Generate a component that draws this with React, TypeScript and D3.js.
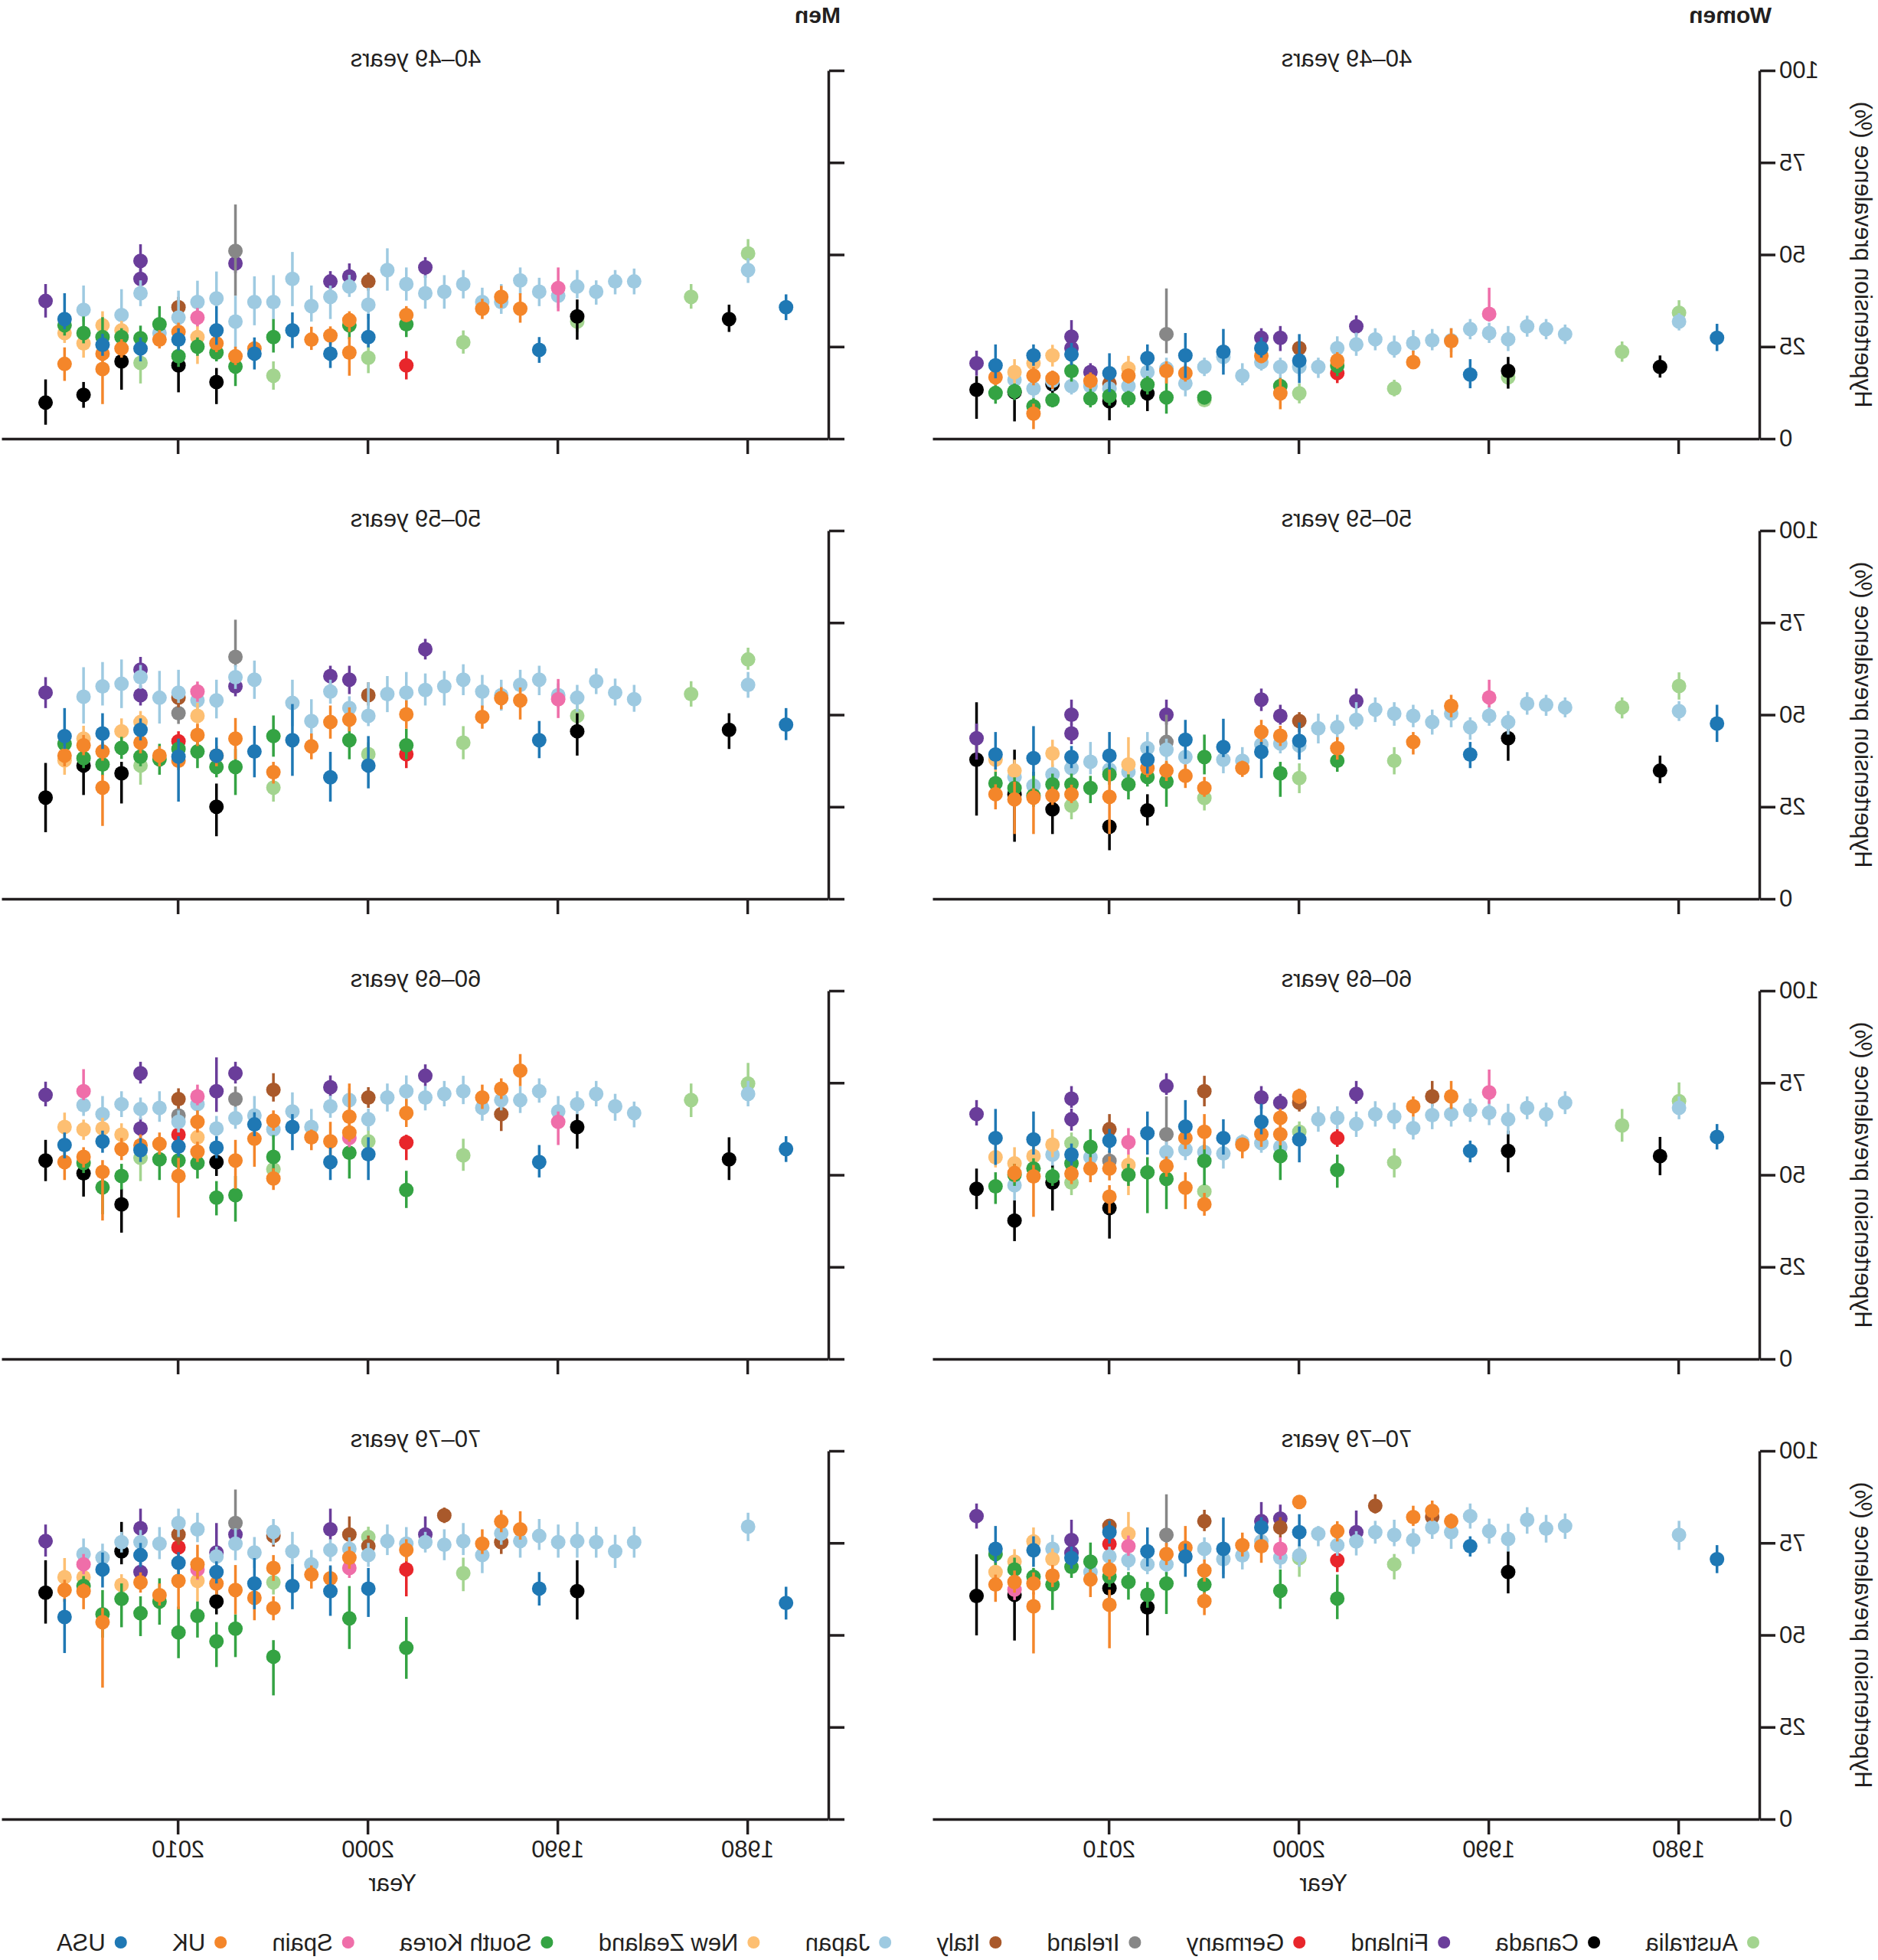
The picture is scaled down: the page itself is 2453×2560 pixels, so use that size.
import { useEffect, useRef } from 'react';
import * as d3 from 'd3';

// [country, survey year, prevalence %, lower CI, upper CI]
type Survey = [string, number, number, number, number];

const countryCodes = ['AUS', 'CAN', 'FIN', 'DEU', 'IRL', 'ITA', 'JPN', 'NZL', 'KOR', 'ESP', 'GBR', 'USA'];
const countryNames = ['Australia', 'Canada', 'Finland', 'Germany', 'Ireland', 'Italy', 'Japan', 'New Zealand', 'South Korea', 'Spain', 'UK', 'USA'];
const countryColors = ['#a3d48f', '#000000', '#6a3d9a', '#e8262b', '#878787', '#a9592b', '#9ecae1', '#fdbf72', '#34a343', '#ef6ea9', '#f4862a', '#1f78b4'];

const sexes = ['Women', 'Men'];
const ageGroups = ['40–49 years', '50–59 years', '60–69 years', '70–79 years'];
const yearTicks = [1980, 1990, 2000, 2010];
const prevalenceTicks = [0, 25, 50, 75, 100];

const women40: Survey[] = [
  ['FIN', 2017, 20.5, 17.1, 23.9], ['CAN', 2017, 13.3, 5.4, 17.0],
  ['USA', 2016, 19.9, 16.4, 25.6], ['GBR', 2016, 16.7, 14.5, 19.0], ['KOR', 2016, 12.4, 9.5, 15.7],
  ['NZL', 2015, 18.1, 15.0, 21.6], ['JPN', 2015, 16.0, 13.5, 18.5], ['KOR', 2015, 12.9, 10.5, 15.0], ['CAN', 2015, 12.6, 4.7, 16.4],
  ['USA', 2014, 22.6, 19.8, 25.6], ['NZL', 2014, 20.5, 17.5, 23.0], ['GBR', 2014, 17.1, 14.5, 19.5], ['JPN', 2014, 13.6, 11.0, 16.0], ['KOR', 2014, 8.8, 6.5, 11.0], ['GBR', 2014, 6.8, 2.6, 9.5],
  ['NZL', 2013, 22.6, 19.6, 25.5], ['GBR', 2013, 16.4, 13.5, 18.5], ['JPN', 2013, 15.7, 13.0, 18.5], ['CAN', 2013, 14.8, 9.5, 17.0], ['KOR', 2013, 10.5, 8.5, 12.5],
  ['FIN', 2012, 27.7, 25.0, 32.2], ['FIN', 2012, 24.6, 22.0, 27.0], ['USA', 2012, 22.9, 20.0, 26.0], ['KOR', 2012, 18.4, 15.5, 21.0], ['JPN', 2012, 14.3, 12.0, 17.0],
  ['FIN', 2011, 18.1, 16.0, 20.5], ['GBR', 2011, 15.7, 13.5, 18.0], ['JPN', 2011, 14.3, 12.0, 16.5], ['KOR', 2011, 10.9, 8.5, 13.5],
  ['USA', 2010, 17.8, 12.7, 23.2], ['ITA', 2010, 15.0, 13.0, 17.0], ['JPN', 2010, 13.6, 11.5, 16.0], ['KOR', 2010, 11.6, 9.0, 14.0], ['CAN', 2010, 10.2, 5.0, 13.6],
  ['NZL', 2009, 19.1, 15.5, 22.5], ['GBR', 2009, 17.1, 15.0, 19.0], ['JPN', 2009, 14.3, 12.0, 17.0], ['KOR', 2009, 10.9, 8.5, 13.0],
  ['USA', 2008, 21.9, 18.5, 25.6], ['JPN', 2008, 18.1, 15.5, 20.5], ['KOR', 2008, 14.7, 12.0, 17.0], ['CAN', 2008, 12.3, 7.5, 16.0],
  ['IRL', 2007, 28.4, 23.2, 40.8], ['JPN', 2007, 19.1, 16.5, 22.0], ['GBR', 2007, 18.4, 15.0, 21.0], ['KOR', 2007, 11.2, 6.8, 16.6],
  ['USA', 2006, 22.6, 16.5, 28.7], ['GBR', 2006, 17.8, 15.5, 20.0], ['JPN', 2006, 15.0, 11.5, 18.5],
  ['JPN', 2005, 19.5, 17.0, 22.0], ['KOR', 2005, 11.2, 9.5, 13.0], ['AUS', 2005, 10.5, 9.0, 12.0],
  ['USA', 2004, 23.6, 17.4, 29.8], ['JPN', 2004, 22.2, 19.5, 24.5],
  ['JPN', 2003, 17.1, 14.5, 20.5],
  ['FIN', 2002, 27.4, 25.0, 30.0], ['USA', 2002, 24.6, 22.0, 27.5], ['GBR', 2002, 22.5, 20.5, 24.5], ['JPN', 2002, 20.8, 18.5, 23.0],
  ['FIN', 2001, 27.4, 23.8, 30.6], ['JPN', 2001, 19.5, 16.0, 22.0], ['KOR', 2001, 14.3, 11.5, 16.5], ['GBR', 2001, 12.3, 8.0, 16.4],
  ['ITA', 2000, 24.6, 22.5, 26.5], ['USA', 2000, 21.2, 15.1, 28.4], ['JPN', 2000, 19.5, 17.0, 22.0], ['AUS', 2000, 12.3, 9.6, 15.0],
  ['JPN', 1999, 19.5, 16.5, 22.0],
  ['JPN', 1998, 24.6, 22.0, 27.8], ['GBR', 1998, 21.2, 19.0, 23.5], ['KOR', 1998, 19.8, 17.0, 22.5], ['DEU', 1998, 17.8, 15.1, 20.5],
  ['FIN', 1997, 30.5, 28.0, 33.5], ['JPN', 1997, 25.6, 22.5, 28.8],
  ['JPN', 1996, 27.0, 24.0, 30.0],
  ['JPN', 1995, 24.6, 22.0, 28.0], ['AUS', 1995, 13.6, 11.5, 16.0],
  ['JPN', 1994, 26.0, 23.5, 29.5], ['GBR', 1994, 20.8, 19.0, 23.9],
  ['JPN', 1993, 26.7, 24.0, 29.8],
  ['GBR', 1992, 26.5, 22.0, 30.0], ['JPN', 1992, 26.7, 23.5, 30.0],
  ['JPN', 1991, 29.8, 27.0, 32.5], ['USA', 1991, 17.4, 13.7, 21.6],
  ['ESP', 1990, 33.9, 31.8, 41.0], ['JPN', 1990, 28.7, 26.0, 31.5],
  ['JPN', 1989, 27.0, 23.8, 30.6], ['CAN', 1989, 18.4, 13.6, 22.2], ['AUS', 1989, 16.7, 14.5, 19.0],
  ['JPN', 1988, 30.5, 27.7, 33.4],
  ['JPN', 1987, 29.8, 27.0, 32.5],
  ['JPN', 1986, 28.4, 25.7, 31.0],
  ['AUS', 1983, 23.6, 20.9, 26.4],
  ['CAN', 1981, 19.5, 16.6, 22.6],
  ['AUS', 1980, 34.2, 31.8, 37.6], ['JPN', 1980, 31.8, 29.4, 34.1],
  ['USA', 1978, 27.4, 23.8, 31.2],
];

const men40: Survey[] = [
  ['FIN', 2017, 37.4, 32.9, 42.0], ['CAN', 2017, 9.8, 3.8, 16.1],
  ['USA', 2016, 32.5, 29.7, 39.5], ['KOR', 2016, 30.8, 28.0, 33.0], ['NZL', 2016, 28.7, 26.0, 31.0], ['GBR', 2016, 20.3, 15.7, 24.8],
  ['JPN', 2015, 35.0, 31.8, 41.6], ['KOR', 2015, 28.7, 25.9, 33.2], ['NZL', 2015, 25.9, 22.0, 29.0], ['CAN', 2015, 11.9, 8.4, 15.4],
  ['NZL', 2014, 30.8, 27.6, 34.6], ['KOR', 2014, 27.6, 24.0, 33.0], ['USA', 2014, 25.5, 22.5, 28.5], ['GBR', 2014, 23.1, 21.0, 25.5], ['GBR', 2014, 18.9, 9.4, 22.0],
  ['JPN', 2013, 33.6, 30.1, 40.6], ['NZL', 2013, 29.4, 27.0, 32.0], ['KOR', 2013, 27.6, 25.0, 30.0], ['GBR', 2013, 24.5, 22.0, 27.0], ['CAN', 2013, 21.0, 13.3, 25.5],
  ['FIN', 2012, 48.3, 45.1, 52.8], ['FIN', 2012, 43.4, 40.5, 46.5], ['JPN', 2012, 39.5, 36.0, 43.0], ['KOR', 2012, 27.3, 22.9, 30.7], ['USA', 2012, 24.5, 21.0, 27.5], ['AUS', 2012, 20.6, 15.0, 24.1],
  ['KOR', 2011, 31.1, 28.3, 36.0], ['JPN', 2011, 28.7, 26.0, 32.0], ['GBR', 2011, 26.9, 24.5, 29.5],
  ['ITA', 2010, 35.7, 33.0, 38.5], ['JPN', 2010, 32.9, 29.7, 40.2], ['GBR', 2010, 29.0, 26.5, 31.5], ['USA', 2010, 26.9, 24.0, 30.0], ['KOR', 2010, 22.4, 19.5, 25.5], ['CAN', 2010, 19.9, 12.6, 22.4],
  ['JPN', 2009, 37.1, 34.0, 42.9], ['ESP', 2009, 32.9, 30.5, 35.5], ['NZL', 2009, 27.6, 20.3, 31.1], ['KOR', 2009, 25.0, 22.5, 27.5],
  ['JPN', 2008, 38.1, 35.9, 45.4], ['USA', 2008, 29.4, 25.5, 36.0], ['GBR', 2008, 25.9, 23.5, 28.0], ['KOR', 2008, 23.4, 21.0, 26.0], ['CAN', 2008, 15.4, 9.4, 19.2],
  ['IRL', 2007, 51.0, 38.8, 63.6], ['FIN', 2007, 47.6, 45.0, 50.0], ['JPN', 2007, 31.8, 23.4, 38.8], ['GBR', 2007, 22.4, 20.0, 25.0], ['KOR', 2007, 19.6, 14.3, 22.7],
  ['JPN', 2006, 37.1, 30.8, 44.1], ['GBR', 2006, 24.5, 22.0, 26.5], ['USA', 2006, 23.1, 18.8, 27.5],
  ['JPN', 2005, 37.1, 32.5, 44.4], ['KOR', 2005, 27.6, 23.4, 32.5], ['AUS', 2005, 17.1, 13.3, 21.0],
  ['JPN', 2004, 43.4, 36.0, 50.7], ['USA', 2004, 29.4, 24.6, 34.3],
  ['JPN', 2003, 36.0, 31.8, 41.6], ['GBR', 2003, 26.9, 24.1, 30.4],
  ['FIN', 2002, 42.7, 40.2, 45.5], ['JPN', 2002, 38.5, 32.5, 41.6], ['GBR', 2002, 28.0, 25.5, 30.5], ['USA', 2002, 23.1, 19.2, 26.2],
  ['FIN', 2001, 44.1, 41.6, 47.6], ['JPN', 2001, 41.3, 38.5, 44.5], ['GBR', 2001, 32.2, 29.0, 34.6], ['KOR', 2001, 30.8, 27.0, 34.0], ['GBR', 2001, 23.4, 17.1, 27.6],
  ['ITA', 2000, 42.7, 40.2, 45.1], ['JPN', 2000, 36.4, 32.5, 41.0], ['USA', 2000, 27.6, 24.8, 33.9], ['AUS', 2000, 22.0, 17.8, 25.5],
  ['JPN', 1999, 45.8, 40.2, 51.7],
  ['JPN', 1998, 42.0, 37.5, 46.5], ['GBR', 1998, 33.6, 31.8, 36.0], ['KOR', 1998, 31.1, 27.6, 34.6], ['DEU', 1998, 19.9, 16.1, 23.8],
  ['FIN', 1997, 46.5, 43.7, 49.3], ['JPN', 1997, 39.5, 35.3, 44.4],
  ['JPN', 1996, 39.9, 35.3, 44.4],
  ['JPN', 1995, 42.0, 38.1, 45.8], ['AUS', 1995, 26.2, 23.1, 29.4],
  ['JPN', 1994, 37.1, 33.2, 41.0], ['GBR', 1994, 35.3, 32.5, 38.0],
  ['GBR', 1993, 38.5, 35.5, 41.5], ['JPN', 1993, 37.1, 33.9, 42.0],
  ['JPN', 1992, 43.0, 39.2, 46.5], ['GBR', 1992, 35.3, 31.5, 39.5],
  ['JPN', 1991, 39.9, 36.0, 43.7], ['USA', 1991, 24.1, 20.6, 27.6],
  ['ESP', 1990, 40.9, 34.6, 46.5], ['JPN', 1990, 38.8, 35.5, 42.0],
  ['JPN', 1989, 41.3, 38.1, 45.8], ['CAN', 1989, 33.2, 26.9, 37.8], ['AUS', 1989, 31.8, 29.0, 34.5],
  ['JPN', 1988, 39.9, 36.4, 43.0],
  ['JPN', 1987, 42.7, 39.2, 45.8],
  ['JPN', 1986, 42.7, 39.2, 46.2],
  ['AUS', 1983, 38.5, 35.3, 42.0],
  ['CAN', 1981, 32.5, 29.0, 36.4],
  ['AUS', 1980, 50.3, 47.2, 54.2], ['JPN', 1980, 45.8, 42.3, 49.0],
  ['USA', 1978, 35.7, 32.2, 39.2],
];

const women50: Survey[] = [
  ['FIN', 2017, 43.6, 37.8, 47.6], ['CAN', 2017, 37.8, 22.6, 53.4],
  ['USA', 2016, 39.2, 35.1, 45.3], ['NZL', 2016, 37.8, 34.5, 40.5], ['KOR', 2016, 31.4, 29.0, 34.5], ['GBR', 2016, 28.4, 24.3, 31.1],
  ['NZL', 2015, 34.8, 31.8, 37.8], ['JPN', 2015, 33.1, 30.5, 36.0], ['KOR', 2015, 30.1, 27.5, 33.0], ['CAN', 2015, 28.4, 15.5, 40.5], ['GBR', 2015, 27.0, 17.6, 31.8],
  ['USA', 2014, 38.2, 33.4, 46.9], ['JPN', 2014, 30.7, 28.0, 33.5], ['KOR', 2014, 28.0, 25.0, 34.5], ['GBR', 2014, 27.5, 17.6, 30.0],
  ['NZL', 2013, 39.5, 35.8, 43.2], ['JPN', 2013, 33.8, 31.0, 36.5], ['KOR', 2013, 31.1, 28.5, 34.0], ['GBR', 2013, 28.0, 25.5, 30.5], ['CAN', 2013, 24.3, 17.6, 28.4],
  ['FIN', 2012, 50.0, 47.3, 54.1], ['FIN', 2012, 44.9, 42.0, 47.5], ['USA', 2012, 38.5, 35.5, 41.5], ['JPN', 2012, 35.5, 32.5, 38.5], ['KOR', 2012, 31.1, 28.5, 34.0], ['GBR', 2012, 28.4, 26.0, 31.0], ['AUS', 2012, 25.3, 21.6, 28.4],
  ['JPN', 2011, 37.2, 33.8, 42.6], ['KOR', 2011, 30.1, 26.0, 33.4],
  ['USA', 2010, 38.9, 35.1, 45.3], ['JPN', 2010, 35.1, 32.0, 38.0], ['KOR', 2010, 33.8, 31.0, 36.5], ['GBR', 2010, 27.7, 17.6, 35.8], ['CAN', 2010, 19.6, 13.2, 21.6],
  ['NZL', 2009, 36.5, 33.1, 43.9], ['JPN', 2009, 34.5, 31.5, 37.5], ['KOR', 2009, 31.1, 27.0, 33.8],
  ['JPN', 2008, 40.9, 38.5, 45.3], ['USA', 2008, 37.8, 34.0, 41.5], ['GBR', 2008, 35.5, 33.0, 38.0], ['KOR', 2008, 33.1, 30.5, 35.8], ['CAN', 2008, 24.0, 19.9, 28.4],
  ['FIN', 2007, 50.0, 47.3, 54.1], ['IRL', 2007, 42.6, 38.5, 50.0], ['JPN', 2007, 40.5, 37.5, 43.5], ['GBR', 2007, 34.8, 32.0, 37.5], ['KOR', 2007, 31.8, 25.0, 37.2],
  ['USA', 2006, 43.2, 38.0, 48.6], ['JPN', 2006, 38.5, 35.0, 42.0], ['GBR', 2006, 33.4, 30.1, 36.5],
  ['KOR', 2005, 38.5, 33.8, 44.6], ['GBR', 2005, 30.1, 27.7, 33.1], ['AUS', 2005, 27.4, 24.0, 30.4],
  ['USA', 2004, 41.2, 38.5, 48.9], ['JPN', 2004, 37.8, 34.1, 41.2],
  ['JPN', 2003, 37.5, 34.5, 41.2], ['GBR', 2003, 35.5, 33.1, 37.5],
  ['FIN', 2002, 54.1, 51.0, 57.1], ['GBR', 2002, 45.3, 41.9, 48.6], ['JPN', 2002, 41.9, 39.0, 45.0], ['USA', 2002, 39.9, 32.8, 42.6],
  ['FIN', 2001, 49.7, 47.3, 52.7], ['GBR', 2001, 44.3, 41.5, 47.0], ['JPN', 2001, 42.2, 39.5, 45.0], ['KOR', 2001, 34.1, 27.7, 37.2],
  ['ITA', 2000, 48.3, 45.3, 50.7], ['USA', 2000, 42.9, 37.8, 47.9], ['JPN', 2000, 41.6, 38.5, 44.5], ['AUS', 2000, 32.8, 28.7, 36.8],
  ['JPN', 1999, 46.3, 42.2, 50.3],
  ['JPN', 1998, 46.6, 43.2, 50.0], ['GBR', 1998, 40.9, 37.8, 43.9], ['KOR', 1998, 37.5, 34.5, 40.5],
  ['FIN', 1997, 53.7, 52.0, 57.1], ['JPN', 1997, 48.6, 46.0, 53.4],
  ['JPN', 1996, 51.4, 48.0, 54.7],
  ['JPN', 1995, 50.3, 47.0, 53.4], ['AUS', 1995, 37.5, 33.8, 41.2],
  ['JPN', 1994, 49.7, 46.6, 52.7], ['GBR', 1994, 42.6, 39.2, 45.3],
  ['JPN', 1993, 48.0, 44.6, 51.4],
  ['GBR', 1992, 52.4, 49.3, 55.4], ['JPN', 1992, 50.3, 46.6, 53.4],
  ['JPN', 1991, 46.6, 43.2, 49.3], ['USA', 1991, 39.2, 35.5, 42.6],
  ['ESP', 1990, 54.7, 52.0, 59.5], ['JPN', 1990, 49.7, 47.0, 52.5],
  ['JPN', 1989, 48.0, 44.6, 51.0], ['CAN', 1989, 43.6, 37.5, 47.3],
  ['JPN', 1988, 53.0, 50.0, 56.1],
  ['JPN', 1987, 52.7, 49.7, 55.4],
  ['JPN', 1986, 52.0, 49.3, 54.7],
  ['AUS', 1983, 52.0, 49.0, 54.7],
  ['CAN', 1981, 34.8, 31.4, 38.9],
  ['AUS', 1980, 57.8, 54.1, 61.5], ['JPN', 1980, 51.0, 48.3, 53.7],
  ['USA', 1978, 47.6, 42.6, 52.7],
];

const men50: Survey[] = [
  ['FIN', 2017, 56.0, 51.8, 60.2], ['CAN', 2017, 27.5, 18.1, 36.9],
  ['USA', 2016, 44.2, 40.7, 51.8], ['KOR', 2016, 42.1, 39.5, 45.0], ['GBR', 2016, 38.9, 36.0, 41.5], ['NZL', 2016, 37.6, 33.7, 40.7],
  ['JPN', 2015, 54.9, 47.6, 62.9], ['NZL', 2015, 43.5, 40.5, 47.0], ['GBR', 2015, 41.7, 39.0, 44.5], ['KOR', 2015, 38.2, 35.5, 41.0], ['CAN', 2015, 36.2, 28.2, 38.6],
  ['JPN', 2014, 57.7, 52.5, 64.3], ['USA', 2014, 44.9, 40.7, 50.4], ['GBR', 2014, 40.0, 37.5, 42.5], ['KOR', 2014, 36.5, 33.5, 39.5], ['GBR', 2014, 30.2, 19.8, 33.7],
  ['JPN', 2013, 58.4, 51.8, 65.0], ['NZL', 2013, 45.5, 42.0, 49.0], ['KOR', 2013, 41.0, 38.0, 44.0], ['CAN', 2013, 34.1, 25.9, 37.2],
  ['FIN', 2012, 62.2, 58.8, 65.7], ['JPN', 2012, 60.2, 57.0, 63.5], ['FIN', 2012, 55.3, 52.5, 58.0], ['NZL', 2012, 48.0, 45.0, 51.0], ['USA', 2012, 45.9, 43.0, 49.0], ['GBR', 2012, 42.4, 39.5, 45.0], ['KOR', 2012, 38.6, 36.0, 41.0], ['AUS', 2012, 36.2, 31.0, 38.6],
  ['JPN', 2011, 54.6, 47.6, 61.9], ['GBR', 2011, 38.9, 36.0, 41.5], ['KOR', 2011, 37.9, 33.7, 42.1],
  ['JPN', 2010, 56.0, 53.2, 62.2], ['ITA', 2010, 54.6, 52.0, 57.0], ['IRL', 2010, 50.4, 47.5, 53.0], ['DEU', 2010, 42.8, 40.0, 45.5], ['KOR', 2010, 40.7, 38.0, 43.5], ['USA', 2010, 38.6, 26.4, 43.5], ['GBR', 2010, 37.5, 35.0, 40.0],
  ['ESP', 2009, 56.3, 53.5, 59.0], ['JPN', 2009, 53.9, 50.7, 57.7], ['NZL', 2009, 49.7, 46.2, 53.2], ['GBR', 2009, 44.5, 41.5, 47.5], ['KOR', 2009, 40.0, 35.5, 43.5],
  ['JPN', 2008, 53.9, 49.0, 59.5], ['GBR', 2008, 38.9, 36.0, 41.5], ['USA', 2008, 38.9, 36.9, 43.8], ['KOR', 2008, 35.8, 33.0, 38.5], ['CAN', 2008, 25.0, 17.0, 31.3],
  ['IRL', 2007, 65.7, 63.0, 75.8], ['JPN', 2007, 60.2, 57.0, 63.5], ['FIN', 2007, 57.7, 55.0, 60.5], ['GBR', 2007, 43.5, 37.9, 49.1], ['KOR', 2007, 35.8, 28.2, 40.7],
  ['JPN', 2006, 59.5, 54.3, 64.7], ['USA', 2006, 40.0, 33.0, 47.0],
  ['KOR', 2005, 44.2, 38.6, 49.8], ['GBR', 2005, 34.4, 31.3, 37.2], ['AUS', 2005, 30.2, 26.4, 33.0],
  ['JPN', 2004, 53.2, 46.9, 59.5], ['USA', 2004, 43.1, 33.4, 52.9],
  ['JPN', 2003, 48.3, 42.0, 54.2], ['GBR', 2003, 41.4, 37.9, 44.9],
  ['FIN', 2002, 60.5, 57.7, 63.3], ['JPN', 2002, 56.3, 53.0, 59.5], ['GBR', 2002, 48.0, 43.5, 52.5], ['USA', 2002, 33.0, 26.4, 39.9],
  ['FIN', 2001, 59.5, 55.6, 63.3], ['JPN', 2001, 51.8, 48.5, 55.0], ['GBR', 2001, 48.7, 45.5, 52.0], ['KOR', 2001, 43.1, 37.9, 47.6],
  ['ITA', 2000, 55.3, 52.5, 58.8], ['JPN', 2000, 49.7, 46.9, 58.8], ['AUS', 2000, 39.3, 36.0, 42.5], ['USA', 2000, 36.2, 30.0, 44.2],
  ['JPN', 1999, 55.6, 50.7, 60.5],
  ['JPN', 1998, 56.0, 50.4, 61.6], ['GBR', 1998, 50.1, 46.2, 53.9], ['KOR', 1998, 41.7, 37.9, 46.2], ['DEU', 1998, 39.3, 35.5, 41.4],
  ['FIN', 1997, 67.8, 65.0, 70.6], ['JPN', 1997, 56.7, 52.5, 61.2],
  ['JPN', 1996, 57.7, 52.5, 61.9],
  ['JPN', 1995, 59.5, 55.3, 63.7], ['AUS', 1995, 42.4, 37.9, 46.9],
  ['JPN', 1994, 56.3, 51.8, 60.8], ['GBR', 1994, 49.4, 46.2, 52.5],
  ['GBR', 1993, 54.5, 51.5, 57.5], ['JPN', 1993, 55.3, 51.1, 59.5],
  ['GBR', 1992, 53.9, 48.7, 57.4], ['JPN', 1992, 58.1, 54.6, 62.2],
  ['JPN', 1991, 59.5, 55.3, 63.3], ['USA', 1991, 43.1, 38.2, 48.3],
  ['ESP', 1990, 54.2, 49.1, 59.7], ['JPN', 1990, 55.3, 52.0, 58.5],
  ['JPN', 1989, 54.6, 50.8, 58.1], ['AUS', 1989, 49.7, 46.5, 53.0], ['CAN', 1989, 45.5, 38.9, 50.4],
  ['JPN', 1988, 59.1, 55.6, 62.6],
  ['JPN', 1987, 56.0, 52.5, 59.8],
  ['JPN', 1986, 54.2, 50.8, 58.1],
  ['AUS', 1983, 55.6, 52.2, 59.1],
  ['CAN', 1981, 45.9, 40.7, 50.4],
  ['AUS', 1980, 65.0, 62.2, 68.2], ['JPN', 1980, 58.1, 54.6, 61.6],
  ['USA', 1978, 47.3, 43.1, 51.8],
];

const women60: Survey[] = [
  ['FIN', 2017, 66.5, 63.4, 70.3], ['CAN', 2017, 46.2, 40.7, 51.7],
  ['USA', 2016, 60.0, 52.7, 67.9], ['NZL', 2016, 54.8, 52.0, 57.5], ['KOR', 2016, 46.9, 42.1, 50.7],
  ['NZL', 2015, 53.1, 50.0, 57.5], ['GBR', 2015, 50.5, 48.0, 53.0], ['KOR', 2015, 50.0, 47.0, 53.0], ['JPN', 2015, 47.2, 43.1, 50.7], ['CAN', 2015, 37.6, 32.0, 43.1],
  ['USA', 2014, 59.6, 55.5, 67.2], ['NZL', 2014, 55.1, 52.0, 58.0], ['KOR', 2014, 51.7, 49.0, 54.5], ['GBR', 2014, 49.6, 38.6, 52.7],
  ['NZL', 2013, 58.2, 54.8, 62.4], ['JPN', 2013, 55.5, 52.5, 58.5], ['KOR', 2013, 49.6, 47.0, 52.0], ['CAN', 2013, 47.9, 40.3, 52.7],
  ['FIN', 2012, 70.7, 68.2, 74.1], ['FIN', 2012, 65.1, 62.0, 68.0], ['AUS', 2012, 58.6, 55.5, 61.5], ['USA', 2012, 55.5, 52.5, 58.5], ['KOR', 2012, 53.1, 50.5, 56.0], ['GBR', 2012, 50.3, 47.5, 53.0], ['AUS', 2012, 47.9, 44.5, 51.0],
  ['KOR', 2011, 57.6, 53.5, 62.4], ['JPN', 2011, 54.8, 52.0, 57.5], ['GBR', 2011, 51.7, 48.0, 54.8],
  ['ITA', 2010, 62.4, 59.6, 66.5], ['USA', 2010, 59.3, 56.0, 62.5], ['IRL', 2010, 53.8, 51.0, 56.5], ['GBR', 2010, 51.7, 48.5, 55.0], ['GBR', 2010, 44.1, 39.6, 47.2], ['CAN', 2010, 41.0, 32.7, 43.1],
  ['ESP', 2009, 58.9, 55.5, 62.7], ['NZL', 2009, 52.7, 44.5, 55.5], ['KOR', 2009, 50.0, 47.0, 53.0],
  ['USA', 2008, 61.3, 55.5, 67.2], ['KOR', 2008, 50.7, 39.6, 54.8],
  ['FIN', 2007, 74.1, 71.7, 77.6], ['IRL', 2007, 61.0, 56.2, 71.3], ['JPN', 2007, 56.2, 53.5, 59.0], ['GBR', 2007, 52.4, 49.5, 55.0], ['KOR', 2007, 48.9, 40.7, 53.4],
  ['USA', 2006, 63.1, 59.6, 70.3], ['GBR', 2006, 60.0, 57.0, 63.0], ['JPN', 2006, 56.9, 54.0, 60.0], ['GBR', 2006, 46.5, 40.7, 50.7],
  ['ITA', 2005, 72.7, 68.6, 76.9], ['GBR', 2005, 61.7, 56.9, 66.5], ['JPN', 2005, 56.2, 53.5, 59.0], ['KOR', 2005, 53.8, 47.2, 58.2], ['AUS', 2005, 45.5, 43.1, 47.6], ['GBR', 2005, 42.0, 38.9, 45.1],
  ['USA', 2004, 60.0, 55.5, 65.1], ['JPN', 2004, 55.8, 51.7, 59.6],
  ['JPN', 2003, 58.9, 56.0, 61.0], ['GBR', 2003, 58.2, 54.5, 59.6],
  ['FIN', 2002, 71.0, 67.9, 74.1], ['USA', 2002, 64.4, 61.0, 69.3], ['GBR', 2002, 61.0, 57.6, 63.8], ['JPN', 2002, 58.6, 56.0, 61.5],
  ['FIN', 2001, 69.6, 67.2, 72.0], ['GBR', 2001, 65.5, 63.0, 68.0], ['GBR', 2001, 61.0, 58.0, 64.0], ['JPN', 2001, 57.6, 55.0, 60.5], ['KOR', 2001, 55.1, 48.6, 58.2],
  ['GBR', 2000, 71.3, 69.3, 73.4], ['ITA', 2000, 69.6, 67.2, 73.4], ['AUS', 2000, 61.7, 59.0, 64.5], ['USA', 2000, 59.6, 53.4, 63.1],
  ['JPN', 1999, 65.1, 61.7, 68.6],
  ['JPN', 1998, 65.5, 62.4, 68.6], ['DEU', 1998, 60.0, 57.6, 62.4], ['KOR', 1998, 51.3, 46.5, 55.5],
  ['FIN', 1997, 72.0, 69.3, 75.5], ['JPN', 1997, 63.8, 60.3, 67.2],
  ['JPN', 1996, 66.5, 63.1, 70.0],
  ['JPN', 1995, 65.8, 62.4, 69.6], ['AUS', 1995, 53.4, 49.3, 57.2],
  ['GBR', 1994, 68.6, 65.8, 71.3], ['JPN', 1994, 62.7, 59.6, 65.8],
  ['ITA', 1993, 71.3, 68.6, 75.5], ['JPN', 1993, 66.2, 62.4, 69.3],
  ['GBR', 1992, 71.3, 67.9, 75.5], ['JPN', 1992, 66.5, 63.1, 70.0],
  ['JPN', 1991, 67.6, 64.4, 70.7], ['USA', 1991, 56.5, 53.4, 59.3],
  ['ESP', 1990, 72.4, 69.3, 78.6], ['JPN', 1990, 66.9, 63.5, 70.0],
  ['JPN', 1989, 65.1, 61.0, 69.3], ['CAN', 1989, 56.5, 50.7, 62.0],
  ['JPN', 1988, 68.2, 65.1, 71.3],
  ['JPN', 1987, 66.5, 63.1, 69.6],
  ['JPN', 1986, 69.6, 66.5, 72.7],
  ['AUS', 1983, 63.4, 59.0, 67.9],
  ['CAN', 1981, 55.1, 49.9, 60.3],
  ['AUS', 1980, 70.0, 66.5, 75.1], ['JPN', 1980, 68.2, 65.1, 71.3],
  ['USA', 1978, 60.3, 56.9, 63.8],
];

const men60: Survey[] = [
  ['FIN', 2017, 71.7, 68.6, 75.3], ['CAN', 2017, 53.9, 48.3, 59.5],
  ['NZL', 2016, 63.0, 59.1, 66.9], ['USA', 2016, 58.1, 54.5, 61.5], ['GBR', 2016, 53.5, 48.6, 57.4],
  ['ESP', 2015, 72.7, 70.3, 78.7], ['JPN', 2015, 68.9, 66.0, 72.0], ['NZL', 2015, 62.3, 59.5, 65.0], ['GBR', 2015, 54.9, 52.0, 57.5], ['KOR', 2015, 53.2, 50.5, 56.0], ['CAN', 2015, 50.4, 44.1, 53.2],
  ['JPN', 2014, 66.5, 63.7, 71.4], ['NZL', 2014, 62.6, 60.0, 65.5], ['USA', 2014, 59.1, 56.0, 62.0], ['GBR', 2014, 50.8, 37.6, 54.0], ['KOR', 2014, 46.6, 39.3, 49.8],
  ['JPN', 2013, 69.2, 65.7, 72.7], ['NZL', 2013, 60.9, 58.0, 64.0], ['GBR', 2013, 57.0, 54.0, 60.0], ['KOR', 2013, 49.7, 46.0, 53.0], ['CAN', 2013, 42.0, 34.3, 46.2],
  ['FIN', 2012, 77.6, 74.8, 80.7], ['JPN', 2012, 67.9, 65.0, 71.0], ['FIN', 2012, 62.6, 60.0, 65.5], ['GBR', 2012, 58.0, 55.0, 61.0], ['USA', 2012, 56.7, 53.5, 60.0], ['AUS', 2012, 54.6, 48.3, 58.8],
  ['JPN', 2011, 68.2, 64.4, 72.7], ['GBR', 2011, 58.4, 55.5, 61.5], ['KOR', 2011, 54.2, 48.6, 57.4],
  ['ITA', 2010, 70.6, 68.0, 73.5], ['IRL', 2010, 66.1, 63.5, 69.0], ['JPN', 2010, 64.4, 61.5, 67.5], ['DEU', 2010, 60.9, 58.0, 64.0], ['USA', 2010, 57.7, 55.0, 60.5], ['KOR', 2010, 53.9, 51.0, 57.0], ['GBR', 2010, 49.7, 38.4, 54.6],
  ['ESP', 2009, 71.3, 68.9, 74.5], ['JPN', 2009, 69.2, 65.7, 73.4], ['GBR', 2009, 64.4, 61.5, 67.5], ['NZL', 2009, 60.2, 57.0, 63.5], ['GBR', 2009, 56.3, 53.5, 59.0], ['KOR', 2009, 53.2, 49.0, 55.8],
  ['FIN', 2008, 72.7, 67.1, 81.9], ['JPN', 2008, 62.6, 59.5, 66.0], ['USA', 2008, 57.4, 54.5, 60.5], ['CAN', 2008, 53.5, 49.7, 57.4], ['KOR', 2008, 43.8, 39.0, 48.3],
  ['FIN', 2007, 77.6, 74.8, 80.7], ['IRL', 2007, 70.6, 67.0, 74.0], ['JPN', 2007, 65.4, 62.5, 68.5], ['GBR', 2007, 53.9, 46.2, 59.5], ['KOR', 2007, 44.5, 37.3, 49.7],
  ['JPN', 2006, 66.1, 60.2, 71.4], ['USA', 2006, 63.7, 60.5, 67.0], ['GBR', 2006, 59.8, 52.2, 63.7],
  ['ITA', 2005, 73.1, 69.9, 77.6], ['GBR', 2005, 64.7, 62.0, 67.5], ['JPN', 2005, 62.3, 59.5, 65.0], ['KOR', 2005, 54.9, 48.9, 60.8], ['AUS', 2005, 51.5, 48.5, 54.5], ['GBR', 2005, 49.0, 45.9, 51.8],
  ['JPN', 2004, 67.2, 63.7, 72.4], ['USA', 2004, 63.0, 56.7, 66.5],
  ['JPN', 2003, 63.0, 58.8, 67.9], ['GBR', 2003, 60.2, 56.7, 62.3],
  ['FIN', 2002, 73.8, 71.3, 77.0], ['JPN', 2002, 68.6, 65.5, 71.5], ['GBR', 2002, 59.1, 54.5, 64.4], ['USA', 2002, 53.5, 48.6, 57.4],
  ['JPN', 2001, 70.3, 67.5, 73.5], ['GBR', 2001, 65.8, 61.6, 74.8], ['GBR', 2001, 61.5, 59.0, 64.0], ['ESP', 2001, 60.0, 57.5, 62.5], ['KOR', 2001, 56.0, 49.0, 59.8],
  ['ITA', 2000, 71.0, 68.2, 73.8], ['JPN', 2000, 65.1, 62.0, 68.0], ['AUS', 2000, 59.1, 55.3, 63.0], ['USA', 2000, 55.6, 48.6, 60.2],
  ['JPN', 1999, 71.0, 67.2, 74.8],
  ['JPN', 1998, 72.7, 67.1, 77.0], ['GBR', 1998, 66.8, 63.0, 70.6], ['DEU', 1998, 58.8, 54.0, 60.9], ['KOR', 1998, 45.9, 41.0, 51.1],
  ['FIN', 1997, 76.9, 74.1, 80.0], ['JPN', 1997, 71.0, 67.5, 74.1],
  ['JPN', 1996, 72.0, 68.6, 75.5],
  ['JPN', 1995, 72.7, 69.2, 76.9], ['AUS', 1995, 55.3, 51.1, 59.8],
  ['GBR', 1994, 71.0, 67.9, 74.5], ['JPN', 1994, 68.2, 64.7, 72.0],
  ['GBR', 1993, 73.4, 70.6, 76.2], ['JPN', 1993, 70.3, 67.5, 73.0], ['ITA', 1993, 66.5, 61.9, 70.0],
  ['GBR', 1992, 78.3, 74.1, 82.8], ['JPN', 1992, 70.3, 66.8, 74.1],
  ['JPN', 1991, 72.7, 69.6, 76.2], ['USA', 1991, 53.5, 49.3, 58.1],
  ['JPN', 1990, 67.2, 64.4, 71.4], ['ESP', 1990, 64.4, 58.1, 67.2],
  ['JPN', 1989, 69.2, 66.5, 72.7], ['CAN', 1989, 63.0, 57.1, 66.5],
  ['JPN', 1988, 72.0, 68.6, 75.5],
  ['JPN', 1987, 68.6, 64.7, 72.0],
  ['JPN', 1986, 66.8, 62.9, 69.9],
  ['AUS', 1983, 70.3, 65.7, 74.8],
  ['CAN', 1981, 54.2, 48.6, 60.2],
  ['AUS', 1980, 74.8, 72.0, 80.4], ['JPN', 1980, 72.0, 68.6, 75.5],
  ['USA', 1978, 57.0, 53.5, 60.5],
];

const women70: Survey[] = [
  ['FIN', 2017, 82.3, 78.9, 85.7], ['CAN', 2017, 60.6, 49.9, 71.9],
  ['USA', 2016, 73.4, 69.6, 79.6], ['KOR', 2016, 72.0, 69.0, 75.0], ['NZL', 2016, 67.1, 64.0, 70.0], ['GBR', 2016, 63.7, 59.0, 66.4],
  ['NZL', 2015, 69.9, 65.8, 73.3], ['KOR', 2015, 67.8, 65.0, 71.0], ['GBR', 2015, 64.4, 61.5, 67.5], ['ESP', 2015, 62.3, 59.5, 65.0], ['CAN', 2015, 60.9, 48.5, 62.3],
  ['NZL', 2014, 75.4, 72.6, 79.2], ['USA', 2014, 73.0, 68.5, 76.8], ['KOR', 2014, 65.8, 63.1, 68.2], ['GBR', 2014, 64.0, 61.0, 67.0], ['GBR', 2014, 57.8, 45.0, 61.6],
  ['JPN', 2013, 73.4, 69.9, 77.2], ['NZL', 2013, 70.6, 67.5, 73.5], ['GBR', 2013, 66.1, 63.0, 69.0], ['KOR', 2013, 63.7, 56.8, 65.8],
  ['FIN', 2012, 75.8, 72.6, 81.3], ['FIN', 2012, 72.3, 69.5, 75.0], ['USA', 2012, 70.9, 68.0, 74.0], ['KOR', 2012, 68.5, 65.5, 71.5],
  ['KOR', 2011, 69.9, 66.4, 75.1], ['JPN', 2011, 67.1, 64.0, 70.0], ['GBR', 2011, 65.1, 60.3, 67.8],
  ['ITA', 2010, 79.6, 77.6, 81.0], ['USA', 2010, 77.9, 74.8, 81.0], ['DEU', 2010, 74.7, 72.0, 77.5], ['JPN', 2010, 71.3, 68.5, 74.0], ['GBR', 2010, 67.8, 65.0, 70.5], ['KOR', 2010, 65.8, 63.0, 68.5], ['CAN', 2010, 62.7, 59.0, 66.4], ['GBR', 2010, 58.2, 46.4, 62.3],
  ['NZL', 2009, 77.5, 74.8, 83.4], ['ESP', 2009, 74.1, 71.5, 77.0], ['JPN', 2009, 70.3, 67.5, 73.0], ['KOR', 2009, 64.4, 59.6, 67.1],
  ['USA', 2008, 72.7, 68.6, 79.2], ['JPN', 2008, 69.2, 66.5, 72.0], ['KOR', 2008, 60.9, 57.4, 64.4], ['CAN', 2008, 57.5, 49.9, 59.6],
  ['IRL', 2007, 77.2, 74.1, 88.2], ['GBR', 2007, 72.0, 69.0, 75.0], ['JPN', 2007, 69.2, 66.5, 72.0], ['KOR', 2007, 64.0, 55.7, 67.1],
  ['GBR', 2006, 73.7, 70.6, 79.6], ['USA', 2006, 71.3, 65.8, 74.8],
  ['ITA', 2005, 80.9, 78.2, 84.0], ['JPN', 2005, 73.4, 70.5, 76.5], ['GBR', 2005, 67.5, 64.5, 70.5], ['KOR', 2005, 63.7, 60.5, 67.0], ['GBR', 2005, 59.2, 55.4, 61.6],
  ['USA', 2004, 73.4, 65.4, 81.9], ['JPN', 2004, 70.6, 66.5, 74.1],
  ['GBR', 2003, 74.4, 71.3, 77.8], ['JPN', 2003, 71.6, 67.8, 74.7],
  ['FIN', 2002, 80.9, 78.9, 86.1], ['USA', 2002, 79.2, 76.0, 82.0], ['JPN', 2002, 75.4, 72.0, 78.0], ['GBR', 2002, 74.1, 69.6, 77.5],
  ['FIN', 2001, 81.6, 79.5, 85.4], ['ITA', 2001, 79.2, 76.5, 82.0], ['ESP', 2001, 73.4, 70.5, 76.5], ['JPN', 2001, 71.0, 68.0, 74.0], ['KOR', 2001, 62.0, 57.1, 67.8],
  ['GBR', 2000, 86.1, 84.4, 87.8], ['USA', 2000, 77.9, 74.1, 82.8], ['JPN', 2000, 71.6, 68.5, 74.5], ['AUS', 2000, 70.9, 65.8, 74.1],
  ['JPN', 1999, 77.5, 74.1, 79.6],
  ['GBR', 1998, 78.2, 75.4, 80.9], ['JPN', 1998, 74.4, 71.5, 77.5], ['DEU', 1998, 70.3, 67.1, 72.7], ['KOR', 1998, 59.9, 54.3, 66.4],
  ['FIN', 1997, 77.9, 74.8, 83.8], ['JPN', 1997, 75.4, 71.6, 78.2],
  ['ITA', 1996, 85.1, 83.0, 88.2], ['JPN', 1996, 77.9, 74.8, 81.0],
  ['JPN', 1995, 77.2, 74.1, 81.3], ['AUS', 1995, 69.2, 65.1, 72.0],
  ['GBR', 1994, 82.0, 79.6, 85.1], ['JPN', 1994, 75.8, 72.0, 78.9],
  ['GBR', 1993, 83.7, 80.9, 86.5], ['ITA', 1993, 82.0, 79.5, 84.5], ['JPN', 1993, 79.2, 76.1, 82.3],
  ['GBR', 1992, 80.9, 78.9, 83.0], ['JPN', 1992, 77.9, 73.4, 80.9],
  ['JPN', 1991, 82.3, 78.9, 85.7], ['USA', 1991, 74.1, 71.3, 76.8],
  ['JPN', 1990, 78.2, 74.8, 81.6],
  ['JPN', 1989, 76.1, 72.7, 80.2], ['CAN', 1989, 67.1, 61.3, 72.7],
  ['JPN', 1988, 81.3, 77.5, 84.7],
  ['JPN', 1987, 78.9, 75.1, 82.6],
  ['JPN', 1986, 79.6, 76.1, 83.0],
  ['JPN', 1980, 77.2, 73.1, 81.0],
  ['USA', 1978, 70.6, 66.8, 74.4],
];

const men70: Survey[] = [
  ['FIN', 2017, 75.5, 71.3, 80.0], ['CAN', 2017, 61.5, 53.1, 70.3],
  ['NZL', 2016, 65.7, 61.9, 70.9], ['GBR', 2016, 62.2, 59.0, 65.0], ['USA', 2016, 54.9, 45.1, 59.8],
  ['JPN', 2015, 72.0, 68.2, 76.2], ['ESP', 2015, 69.2, 66.5, 72.0], ['NZL', 2015, 65.7, 62.5, 69.0], ['KOR', 2015, 63.3, 60.5, 66.0], ['GBR', 2015, 61.9, 57.0, 64.0],
  ['JPN', 2014, 71.0, 67.5, 74.8], ['USA', 2014, 67.8, 62.9, 72.4], ['KOR', 2014, 55.6, 49.3, 62.2], ['GBR', 2014, 53.5, 35.7, 57.3],
  ['JPN', 2013, 75.2, 72.4, 78.0], ['CAN', 2013, 72.7, 69.2, 80.7], ['NZL', 2013, 63.6, 60.5, 66.5], ['KOR', 2013, 59.8, 52.1, 64.0],
  ['FIN', 2012, 79.0, 75.9, 84.3], ['JPN', 2012, 75.2, 72.0, 78.5], ['USA', 2012, 71.7, 68.5, 75.0], ['FIN', 2012, 67.1, 64.0, 70.0], ['GBR', 2012, 64.3, 61.5, 67.0], ['KOR', 2012, 55.9, 49.7, 60.5],
  ['JPN', 2011, 74.8, 70.6, 79.3], ['GBR', 2011, 60.8, 58.0, 64.0], ['KOR', 2011, 59.1, 52.8, 65.4],
  ['JPN', 2010, 80.4, 76.6, 84.3], ['ITA', 2010, 77.3, 74.5, 80.0], ['DEU', 2010, 73.8, 71.0, 76.5], ['USA', 2010, 69.6, 66.5, 72.5], ['GBR', 2010, 64.7, 57.0, 68.0], ['KOR', 2010, 50.7, 43.7, 57.7],
  ['JPN', 2009, 78.7, 75.2, 83.2], ['GBR', 2009, 69.2, 65.3, 74.5], ['ESP', 2009, 67.8, 65.0, 70.5], ['NZL', 2009, 64.7, 59.1, 66.8], ['KOR', 2009, 55.2, 49.3, 59.1],
  ['FIN', 2008, 72.4, 69.6, 80.4], ['JPN', 2008, 71.3, 68.5, 74.0], ['USA', 2008, 67.1, 64.0, 70.0], ['GBR', 2008, 64.0, 61.0, 67.0], ['CAN', 2008, 59.1, 55.6, 62.6], ['KOR', 2008, 48.3, 41.3, 53.5],
  ['IRL', 2007, 80.4, 77.2, 89.5], ['FIN', 2007, 77.3, 74.5, 80.0], ['JPN', 2007, 74.8, 70.3, 79.0], ['GBR', 2007, 62.2, 55.6, 69.0], ['KOR', 2007, 51.7, 44.0, 55.6],
  ['JPN', 2006, 72.4, 68.2, 76.6], ['USA', 2006, 64.0, 57.0, 70.9], ['GBR', 2006, 60.1, 54.0, 65.3],
  ['JPN', 2005, 78.0, 74.5, 81.5], ['ITA', 2005, 76.9, 74.0, 79.5], ['GBR', 2005, 68.2, 64.7, 71.7], ['AUS', 2005, 64.3, 61.0, 67.5], ['GBR', 2005, 57.3, 54.0, 60.5], ['KOR', 2005, 44.1, 33.6, 48.6],
  ['JPN', 2004, 72.7, 68.9, 78.0], ['USA', 2004, 63.3, 57.0, 69.2],
  ['JPN', 2003, 69.2, 65.3, 73.1], ['GBR', 2003, 66.4, 62.6, 68.9],
  ['FIN', 2002, 78.7, 75.9, 84.3], ['JPN', 2002, 73.1, 70.0, 76.0], ['GBR', 2002, 65.4, 62.5, 68.5], ['USA', 2002, 61.9, 55.2, 68.9],
  ['ITA', 2001, 77.3, 73.8, 82.2], ['JPN', 2001, 73.4, 70.5, 76.5], ['GBR', 2001, 71.0, 68.0, 74.0], ['ESP', 2001, 68.2, 65.5, 71.0], ['KOR', 2001, 54.5, 46.2, 63.3],
  ['AUS', 2000, 76.6, 73.8, 79.4], ['ITA', 2000, 74.1, 71.5, 77.0], ['JPN', 2000, 71.7, 68.5, 75.0], ['USA', 2000, 62.6, 54.9, 68.2],
  ['JPN', 1999, 75.5, 71.7, 80.0],
  ['JPN', 1998, 74.8, 70.3, 79.3], ['GBR', 1998, 73.1, 70.0, 76.0], ['DEU', 1998, 67.8, 60.5, 71.7], ['KOR', 1998, 46.5, 38.1, 54.9],
  ['FIN', 1997, 77.3, 74.5, 82.2], ['JPN', 1997, 75.2, 72.4, 78.0],
  ['ITA', 1996, 82.5, 80.4, 84.6], ['JPN', 1996, 74.5, 70.3, 78.7],
  ['JPN', 1995, 75.5, 71.7, 80.4], ['AUS', 1995, 66.8, 61.9, 71.0],
  ['GBR', 1994, 74.8, 72.0, 78.7], ['JPN', 1994, 71.7, 66.8, 75.2],
  ['GBR', 1993, 80.8, 77.9, 83.9], ['JPN', 1993, 77.6, 74.5, 81.0], ['ITA', 1993, 75.2, 72.0, 78.0],
  ['GBR', 1992, 78.7, 75.9, 83.6], ['JPN', 1992, 75.5, 71.0, 79.4],
  ['JPN', 1991, 76.9, 73.1, 81.5], ['USA', 1991, 62.6, 58.0, 67.1],
  ['JPN', 1990, 75.2, 71.0, 80.0],
  ['JPN', 1989, 75.5, 71.0, 80.7], ['CAN', 1989, 61.9, 54.2, 70.3],
  ['JPN', 1988, 75.2, 71.0, 79.4],
  ['JPN', 1987, 72.7, 68.2, 77.2],
  ['JPN', 1986, 75.2, 71.0, 79.4],
  ['JPN', 1980, 79.4, 75.5, 83.2],
  ['USA', 1978, 58.7, 54.2, 63.1],
];

// rows = age groups, columns = women / men
const panelData: Survey[][][] = [
  [women40, men40],
  [women50, men50],
  [women60, men60],
  [women70, men70],
];

const WIDTH = 2453;
const HEIGHT = 2560;
const PANEL_W = 1080;
const PANEL_H = 481;
const ROW_TOP = 92;
const ROW_STEP = 601;
const COLUMN_LEFT = [154, 1370];
const INK = '#231f20';
const FONT = '"Liberation Sans", Arial, sans-serif';
const FONT_SIZE = 31;

const App = () => {
  const svgRef = useRef<SVGSVGElement>(null);

  useEffect(() => {
    const svg = d3.select(svgRef.current);
    svg.selectAll('*').remove();

    // the whole figure is drawn left-to-right, then flipped horizontally
    const root = svg
      .append('g')
      .attr('transform', `translate(${WIDTH},0) scale(-1,1)`)
      .attr('font-family', FONT)
      .attr('font-size', FONT_SIZE)
      .attr('fill', INK);

    const x = d3.scaleLinear().domain([1975.73, 2019.28]).range([0, PANEL_W]);
    const y = d3.scaleLinear().domain([0, 100]).range([PANEL_H, 0]);
    const color = d3.scaleOrdinal<string, string>().domain(countryCodes).range(countryColors);
    const order = (code: string) => countryCodes.indexOf(code);

    const styleAxis = (g: d3.Selection<SVGGElement, unknown, null, undefined>) => {
      g.attr('font-family', FONT).attr('font-size', FONT_SIZE);
      g.selectAll('path, line').attr('stroke', INK).attr('stroke-width', 3.5);
      g.selectAll('text').attr('fill', INK);
    };

    sexes.forEach((sex, c) => {
      root
        .append('text')
        .attr('x', COLUMN_LEFT[c] - 15)
        .attr('y', 30)
        .attr('font-weight', 'bold')
        .attr('font-size', 30)
        .text(sex);

      ageGroups.forEach((age, r) => {
        const top = ROW_TOP + ROW_STEP * r;
        const isBottom = r === ageGroups.length - 1;
        const g = root.append('g').attr('transform', `translate(${COLUMN_LEFT[c]},${top})`);

        // Axes
        const yAxis = d3
          .axisLeft(y)
          .tickValues(prevalenceTicks)
          .tickSize(20)
          .tickSizeOuter(0)
          .tickPadding(5);
        if (c === 1) yAxis.tickFormat(() => '');
        g.append('g').call(yAxis).call(styleAxis);

        const xAxis = d3
          .axisBottom(x)
          .tickValues(yearTicks)
          .tickSize(20)
          .tickSizeOuter(0)
          .tickPadding(8)
          .tickFormat(isBottom ? d3.format('d') : () => '');
        g.append('g').attr('transform', `translate(0,${PANEL_H})`).call(xAxis).call(styleAxis);

        g.append('text')
          .attr('x', PANEL_W / 2)
          .attr('y', -5)
          .attr('text-anchor', 'middle')
          .text(age);

        if (c === 0) {
          g.append('text')
            .attr('transform', `translate(${30 - COLUMN_LEFT[0]},${PANEL_H / 2}) rotate(-90)`)
            .attr('text-anchor', 'middle')
            .text('Hypertension prevalence (%)');
        }

        if (isBottom) {
          g.append('text')
            .attr('x', PANEL_W * 0.528)
            .attr('y', PANEL_H + 94)
            .attr('text-anchor', 'middle')
            .text('Year');
        }

        // Surveys: error bar + point
        const rows = panelData[r][c].slice().sort((a, b) => order(a[0]) - order(b[0]));
        const marks = g.append('g').selectAll('g').data(rows).join('g');

        marks
          .append('line')
          .attr('x1', d => x(d[1]))
          .attr('x2', d => x(d[1]))
          .attr('y1', d => y(d[3]))
          .attr('y2', d => y(d[4]))
          .attr('stroke', d => color(d[0]))
          .attr('stroke-width', 3.5);

        marks
          .append('circle')
          .attr('cx', d => x(d[1]))
          .attr('cy', d => y(d[2]))
          .attr('r', 9.5)
          .attr('fill', d => color(d[0]));
      });
    });

    // Legend, spread across the page width
    const legendY = 2537;
    const legend = root.append('g');
    const items = legend
      .selectAll('g')
      .data(countryNames)
      .join('g');
    items
      .append('circle')
      .attr('r', 8)
      .attr('cy', legendY)
      .attr('fill', (_, i) => countryColors[i]);
    items
      .append('text')
      .attr('x', 20)
      .attr('y', legendY)
      .attr('dy', '0.36em')
      .text(d => d);

    const widths = items.nodes().map(n => (n.querySelector('text') as SVGTextElement).getComputedTextLength());
    const startX = 163;
    const endX = 2379;
    const used = d3.sum(widths) + 20 * widths.length;
    const gap = (endX - startX - used) / (widths.length - 1);
    let cursor = startX;
    items.attr('transform', (_, i) => {
      const t = `translate(${cursor},0)`;
      cursor += 20 + widths[i] + gap;
      return t;
    });
  }, []);

  return (
    <svg
      ref={svgRef}
      width={WIDTH}
      height={HEIGHT}
      style={{ position: 'absolute', left: 0, top: 0, background: '#fff' }}
    />
  );
};

export default App;
